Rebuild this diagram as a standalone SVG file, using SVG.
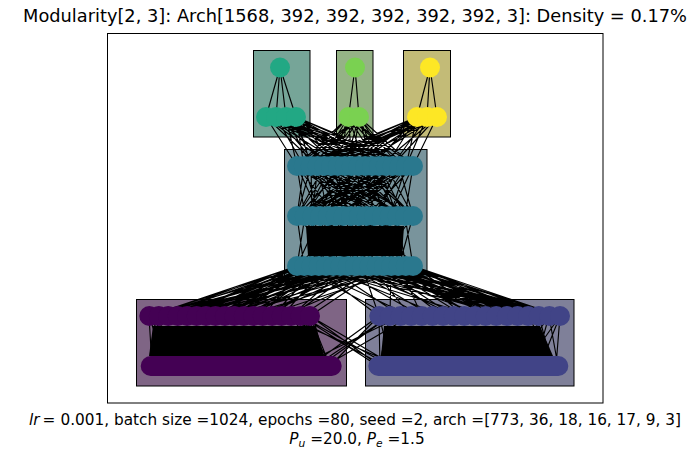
<svg xmlns="http://www.w3.org/2000/svg" width="693" height="459" viewBox="0 0 693 459">
  <style>
    text { font-family: "DejaVu Sans", "Liberation Sans", sans-serif; fill: #000; }
    .frame { fill: none; stroke: #000; stroke-width: 1; }
    .box { stroke: #000; stroke-width: 1; }
    .edges path { fill: none; stroke: #000; stroke-width: 1.15; }
    .edges .solid { fill: #000; stroke: none; }
    .bar { stroke-width: 20; stroke-linecap: round; }
    .v0 { fill: #440154; } .v0.bar { stroke: #440154; }
    .v1 { fill: #414487; } .v1.bar { stroke: #414487; }
    .v2 { fill: #2a788e; }
    .v3 { fill: #22a884; }
    .v4 { fill: #7ad151; }
    .v5 { fill: #fde725; }
  </style>

  <rect width="693" height="459" fill="#fff"/>

  <!-- title -->
  <text x="355" y="22" font-size="17.8" text-anchor="middle">Modularity[2, 3]: Arch[1568, 392, 392, 392, 392, 392, 3]: Density = 0.17%</text>

  <!-- axes frame -->
  <rect class="frame" x="107.5" y="33.5" width="495.5" height="369.5"/>

  <!-- module boxes -->
  <g id="box-top-left"><rect class="box" x="253.5" y="50.5" width="56.5" height="86.5" fill="#76a598"/></g>
  <g id="box-top-mid"><rect class="box" x="336.5" y="50.5" width="36.5" height="86.5" fill="#95b386"/></g>
  <g id="box-top-right"><rect class="box" x="403.5" y="50.5" width="47" height="86.5" fill="#c3bb77"/></g>
  <g id="box-middle"><rect class="box" x="284.5" y="149.5" width="142.5" height="128.5" fill="#79949c"/></g>
  <g id="box-bottom-left"><rect class="box" x="136.5" y="299.5" width="210" height="86.5" fill="#7f6585"/></g>
  <g id="box-bottom-right"><rect class="box" x="365.5" y="299.5" width="208.5" height="86.5" fill="#7f8099"/></g>

  <!-- connections between layers -->
  <g id="connectors" class="edges">
    <!-- output nodes to last hidden layer -->
    <path d="M280 67.5L266 117M280 67.5L276 117M280 67.5L286 117M280 67.5L296 117
             M355 67.5L348.5 117M355 67.5L359 117
             M430 67.5L417 117M430 67.5L427 117M430 67.5L437 117"/>
    <!-- last hidden layer to middle top row -->
    <path d="M266 117L318 166M266 117L345 166M266 117L379 166M266 117L406 166
             M276 117L304 166M276 117L331 166M276 117L365 166M276 117L399 166
             M286 117L297 166M286 117L338 166M286 117L372 166M286 117L413 166
             M296 117L311 166M296 117L352 166M296 117L386 166M296 117L406 166
             M348.5 117L297 166M348.5 117L318 166M348.5 117L338 166M348.5 117L365 166M348.5 117L392 166M348.5 117L413 166
             M359 117L304 166M359 117L331 166M359 117L352 166M359 117L379 166M359 117L399 166M359 117L311 166
             M417 117L297 166M417 117L324 166M417 117L352 166M417 117L386 166
             M427 117L304 166M427 117L338 166M427 117L365 166M427 117L406 166
             M437 117L311 166M437 117L345 166M437 117L379 166M437 117L413 166M437 117L318 166
             M266 117L297 166M266 117L331 166M266 117L365 166M266 117L392 166
             M276 117L318 166M276 117L352 166M276 117L386 166M276 117L413 166
             M286 117L311 166M286 117L324 166M286 117L358 166M286 117L399 166
             M296 117L304 166M296 117L338 166M296 117L372 166M296 117L413 166
             M348.5 117L304 166M348.5 117L331 166M348.5 117L352 166M348.5 117L379 166M348.5 117L406 166
             M359 117L297 166M359 117L324 166M359 117L345 166M359 117L372 166M359 117L392 166M359 117L413 166
             M417 117L304 166M417 117L338 166M417 117L372 166M417 117L406 166
             M427 117L297 166M427 117L318 166M427 117L352 166M427 117L392 166
             M437 117L324 166M437 117L358 166M437 117L392 166M437 117L304 166"/>
    <!-- middle row 1 to row 2 -->
    <path d="M297 166L305 216M297 166L336 216M297 166L367 216
             M304 166L320 216M304 166L351 216M304 166L390 216
             M311 166L297 216M311 166L343 216M311 166L382 216
             M318 166L312 216M318 166L359 216M318 166L405 216
             M324 166L297 216M324 166L336 216M324 166L374 216
             M331 166L305 216M331 166L351 216M331 166L413 216
             M338 166L320 216M338 166L367 216M338 166L397 216
             M345 166L297 216M345 166L328 216M345 166L382 216
             M352 166L312 216M352 166L343 216M352 166L405 216
             M358 166L305 216M358 166L359 216M358 166L390 216
             M365 166L328 216M365 166L374 216M365 166L413 216
             M372 166L297 216M372 166L336 216M372 166L397 216
             M379 166L320 216M379 166L351 216M379 166L405 216
             M386 166L305 216M386 166L367 216M386 166L413 216
             M392 166L343 216M392 166L382 216M392 166L312 216
             M399 166L328 216M399 166L374 216M399 166L297 216
             M406 166L351 216M406 166L390 216M406 166L320 216
             M413 166L336 216M413 166L367 216M413 166L405 216
             M297 166L320 216M297 166L382 216M304 166L297 216M304 166L374 216
             M311 166L312 216M311 166L405 216M318 166L328 216M318 166L390 216
             M324 166L351 216M324 166L413 216M331 166L297 216M331 166L367 216
             M338 166L343 216M338 166L305 216M345 166L359 216M345 166L405 216
             M352 166L328 216M352 166L390 216M358 166L320 216M358 166L413 216
             M365 166L297 216M365 166L351 216M372 166L312 216M372 166L382 216
             M379 166L336 216M379 166L397 216M386 166L343 216M386 166L297 216
             M392 166L305 216M392 166L359 216M399 166L320 216M399 166L413 216
             M406 166L336 216M406 166L374 216M413 166L312 216M413 166L390 216"/>
    <!-- middle row 2 to row 3 -->
    <path class="solid" d="M306 226L404 226L402 256L308 256Z"/>
    <path d="M297 216L304 266M297 216L341 266M297 216L377 266
             M305 216L297 266M305 216L326 266M305 216L362 266
             M312 216L319 266M312 216L355 266M312 216L399 266
             M320 216L297 266M320 216L333 266M320 216L384 266
             M328 216L312 266M328 216L348 266M328 216L406 266
             M336 216L304 266M336 216L370 266M336 216L413 266
             M343 216L319 266M343 216L341 266M343 216L391 266
             M351 216L297 266M351 216L333 266M351 216L377 266
             M359 216L312 266M359 216L362 266M359 216L406 266
             M367 216L326 266M367 216L355 266M367 216L399 266
             M374 216L304 266M374 216L348 266M374 216L413 266
             M382 216L319 266M382 216L370 266M382 216L391 266
             M390 216L297 266M390 216L341 266M390 216L384 266
             M397 216L333 266M397 216L362 266M397 216L406 266
             M405 216L312 266M405 216L355 266M405 216L413 266
             M413 216L326 266M413 216L377 266M413 216L399 266"/>
    <!-- middle row 3 to the two input modules -->
    <path d="M297 266L149 316M297 266L178 316M304 266L159 316M304 266L206 316
             M312 266L168 316M312 266L234 316M319 266L187 316M319 266L149 316
             M326 266L197 316M326 266L253 316M333 266L216 316M333 266L159 316
             M341 266L225 316M341 266L272 316M348 266L178 316M348 266L244 316
             M355 266L263 316M355 266L168 316M362 266L187 316M362 266L291 316
             M370 266L206 316M370 266L149 316M377 266L234 316M377 266L301 316
             M384 266L197 316M384 266L310 316M391 266L253 316M391 266L159 316
             M399 266L216 316M399 266L282 316M406 266L244 316M406 266L178 316
             M413 266L263 316M413 266L225 316
             M297 266L158 316M297 266L197 316M297 266L216 316M297 266L244 316
             M304 266L149 316M304 266L178 316M304 266L234 316M304 266L263 316
             M312 266L187 316M312 266L206 316M312 266L253 316
             M319 266L168 316M319 266L225 316M319 266L272 316
             M326 266L159 316M326 266L216 316M326 266L282 316
             M333 266L178 316M333 266L197 316M333 266L244 316
             M341 266L149 316M341 266L206 316M341 266L234 316
             M348 266L168 316M348 266L216 316M348 266L291 316
             M355 266L187 316M355 266L225 316M362 266L159 316M362 266L244 316
             M370 266L178 316M370 266L263 316"/>
    <path d="M297 266L390 316M297 266L528 316M304 266L411 316M304 266L560 316
             M312 266L379 316M312 266L475 316M319 266L443 316M319 266L539 316
             M326 266L401 316M326 266L507 316M333 266L422 316M333 266L549 316
             M341 266L464 316M341 266L518 316M348 266L432 316M348 266L486 316
             M355 266L454 316M355 266L560 316M362 266L379 316M362 266L496 316
             M370 266L411 316M370 266L539 316M377 266L443 316M377 266L528 316
             M384 266L475 316M384 266L549 316M391 266L390 316M391 266L507 316
             M399 266L422 316M399 266L518 316M406 266L464 316M406 266L560 316
             M413 266L486 316M413 266L539 316
             M413 266L560 316M413 266L549 316M413 266L518 316M413 266L507 316
             M406 266L539 316M406 266L528 316M406 266L496 316
             M399 266L549 316M399 266L560 316M399 266L486 316
             M391 266L528 316M391 266L539 316M391 266L475 316
             M384 266L560 316M384 266L518 316M384 266L464 316
             M377 266L549 316M377 266L507 316M377 266L454 316
             M370 266L560 316M370 266L496 316M362 266L539 316M362 266L528 316
             M355 266L518 316M355 266L549 316M348 266L507 316M348 266L560 316
             M341 266L539 316"/>
    <!-- inputs to first hidden layer, left module -->
    <path class="solid" d="M153 326L316 326L324 356L149 356Z"/>
    <path d="M149 316L152 366M149 316L166 366M159 316L151 366M149 316L180 366M159 316L170 366
             M310 316L330 366M301 316L332 366M310 316L318 366M291 316L326 366M301 316L312 366"/>
    <!-- inputs to first hidden layer, right module -->
    <path class="solid" d="M384 326L540 326L553 356L381 356Z"/>
    <path d="M379 316L380 366M390 316L379 366M379 316L392 366
             M560 316L556 366M560 316L540 366M549 316L558 366M560 316L525 366
             M549 316L535 366M539 316L552 366M528 316L556 366M549 316L515 366M539 316L528 366"/>
    <!-- cross connections between the input modules -->
    <path d="M310 366L379 316M320 366L390 316M330 366L379 316M300 366L401 316M325 366L411 316M315 366L390 316
             M380 366L310 316M390 366L301 316M385 366L291 316M395 366L310 316M400 366L282 316M378 366L301 316"/>
  </g>

  <!-- output module nodes -->
  <g id="nodes-top-left" class="v3">
    <circle cx="280" cy="67.5" r="10"/>
    <circle cx="266" cy="117" r="10"/><circle cx="276" cy="117" r="10"/>
    <circle cx="286" cy="117" r="10"/><circle cx="296" cy="117" r="10"/>
  </g>
  <g id="nodes-top-mid" class="v4">
    <circle cx="355" cy="67.5" r="10"/>
    <circle cx="348.5" cy="117" r="10"/><circle cx="359" cy="117" r="10"/>
  </g>
  <g id="nodes-top-right" class="v5">
    <circle cx="430" cy="67.5" r="10"/>
    <circle cx="417" cy="117" r="10"/><circle cx="427" cy="117" r="10"/><circle cx="437" cy="117" r="10"/>
  </g>

  <!-- shared middle module: three rows -->
  <g id="nodes-middle" class="v2">
    <circle cx="297" cy="166" r="10"/><circle cx="303.8" cy="166" r="10"/><circle cx="310.6" cy="166" r="10"/>
    <circle cx="317.5" cy="166" r="10"/><circle cx="324.3" cy="166" r="10"/><circle cx="331.1" cy="166" r="10"/>
    <circle cx="337.9" cy="166" r="10"/><circle cx="344.8" cy="166" r="10"/><circle cx="351.6" cy="166" r="10"/>
    <circle cx="358.4" cy="166" r="10"/><circle cx="365.2" cy="166" r="10"/><circle cx="372.1" cy="166" r="10"/>
    <circle cx="378.9" cy="166" r="10"/><circle cx="385.7" cy="166" r="10"/><circle cx="392.5" cy="166" r="10"/>
    <circle cx="399.4" cy="166" r="10"/><circle cx="406.2" cy="166" r="10"/><circle cx="413" cy="166" r="10"/>

    <circle cx="297" cy="216" r="10"/><circle cx="304.7" cy="216" r="10"/><circle cx="312.5" cy="216" r="10"/>
    <circle cx="320.2" cy="216" r="10"/><circle cx="327.9" cy="216" r="10"/><circle cx="335.7" cy="216" r="10"/>
    <circle cx="343.4" cy="216" r="10"/><circle cx="351.1" cy="216" r="10"/><circle cx="358.9" cy="216" r="10"/>
    <circle cx="366.6" cy="216" r="10"/><circle cx="374.3" cy="216" r="10"/><circle cx="382.1" cy="216" r="10"/>
    <circle cx="389.8" cy="216" r="10"/><circle cx="397.5" cy="216" r="10"/><circle cx="405.3" cy="216" r="10"/>
    <circle cx="413" cy="216" r="10"/>

    <circle cx="297" cy="266" r="10"/><circle cx="304.3" cy="266" r="10"/><circle cx="311.5" cy="266" r="10"/>
    <circle cx="318.8" cy="266" r="10"/><circle cx="326" cy="266" r="10"/><circle cx="333.3" cy="266" r="10"/>
    <circle cx="340.5" cy="266" r="10"/><circle cx="347.8" cy="266" r="10"/><circle cx="355" cy="266" r="10"/>
    <circle cx="362.3" cy="266" r="10"/><circle cx="369.5" cy="266" r="10"/><circle cx="376.8" cy="266" r="10"/>
    <circle cx="384" cy="266" r="10"/><circle cx="391.3" cy="266" r="10"/><circle cx="398.5" cy="266" r="10"/>
    <circle cx="405.8" cy="266" r="10"/><circle cx="413" cy="266" r="10"/>
  </g>

  <!-- input module A -->
  <g id="nodes-bottom-left" class="v0">
    <circle cx="149.3" cy="316" r="10"/><circle cx="158.8" cy="316" r="10"/><circle cx="168.2" cy="316" r="10"/>
    <circle cx="177.7" cy="316" r="10"/><circle cx="187.1" cy="316" r="10"/><circle cx="196.6" cy="316" r="10"/>
    <circle cx="206" cy="316" r="10"/><circle cx="215.5" cy="316" r="10"/><circle cx="224.9" cy="316" r="10"/>
    <circle cx="234.4" cy="316" r="10"/><circle cx="243.8" cy="316" r="10"/><circle cx="253.3" cy="316" r="10"/>
    <circle cx="262.7" cy="316" r="10"/><circle cx="272.2" cy="316" r="10"/><circle cx="281.6" cy="316" r="10"/>
    <circle cx="291.1" cy="316" r="10"/><circle cx="300.5" cy="316" r="10"/><circle cx="310" cy="316" r="10"/>
    <line class="v0 bar" x1="150.7" y1="366" x2="331.7" y2="366"/>
  </g>

  <!-- input module B -->
  <g id="nodes-bottom-right" class="v1">
    <circle cx="379.3" cy="316" r="10"/><circle cx="389.9" cy="316" r="10"/><circle cx="400.6" cy="316" r="10"/>
    <circle cx="411.2" cy="316" r="10"/><circle cx="421.8" cy="316" r="10"/><circle cx="432.5" cy="316" r="10"/>
    <circle cx="443.1" cy="316" r="10"/><circle cx="453.7" cy="316" r="10"/><circle cx="464.3" cy="316" r="10"/>
    <circle cx="475" cy="316" r="10"/><circle cx="485.6" cy="316" r="10"/><circle cx="496.2" cy="316" r="10"/>
    <circle cx="506.9" cy="316" r="10"/><circle cx="517.5" cy="316" r="10"/><circle cx="528.1" cy="316" r="10"/>
    <circle cx="538.8" cy="316" r="10"/><circle cx="549.4" cy="316" r="10"/><circle cx="560" cy="316" r="10"/>
    <line class="v1 bar" x1="378.3" y1="366" x2="558.3" y2="366"/>
  </g>

  <!-- axis label -->
  <text x="355" y="425" font-size="15.3" text-anchor="middle"><tspan font-style="italic">lr</tspan><tspan dx="3">=</tspan><tspan dx="5">0.001, batch size =1024, epochs =80, seed =2, arch =[773, 36, 18, 16, 17, 9, 3]</tspan></text>
  <text x="357" y="444" font-size="15.3" text-anchor="middle"><tspan font-style="italic">P</tspan><tspan font-style="italic" font-size="10.7" dy="2.6">u</tspan><tspan dy="-2.6"> =20.0, </tspan><tspan font-style="italic">P</tspan><tspan font-style="italic" font-size="10.7" dy="2.6">e</tspan><tspan dy="-2.6"> =1.5</tspan></text>
</svg>
